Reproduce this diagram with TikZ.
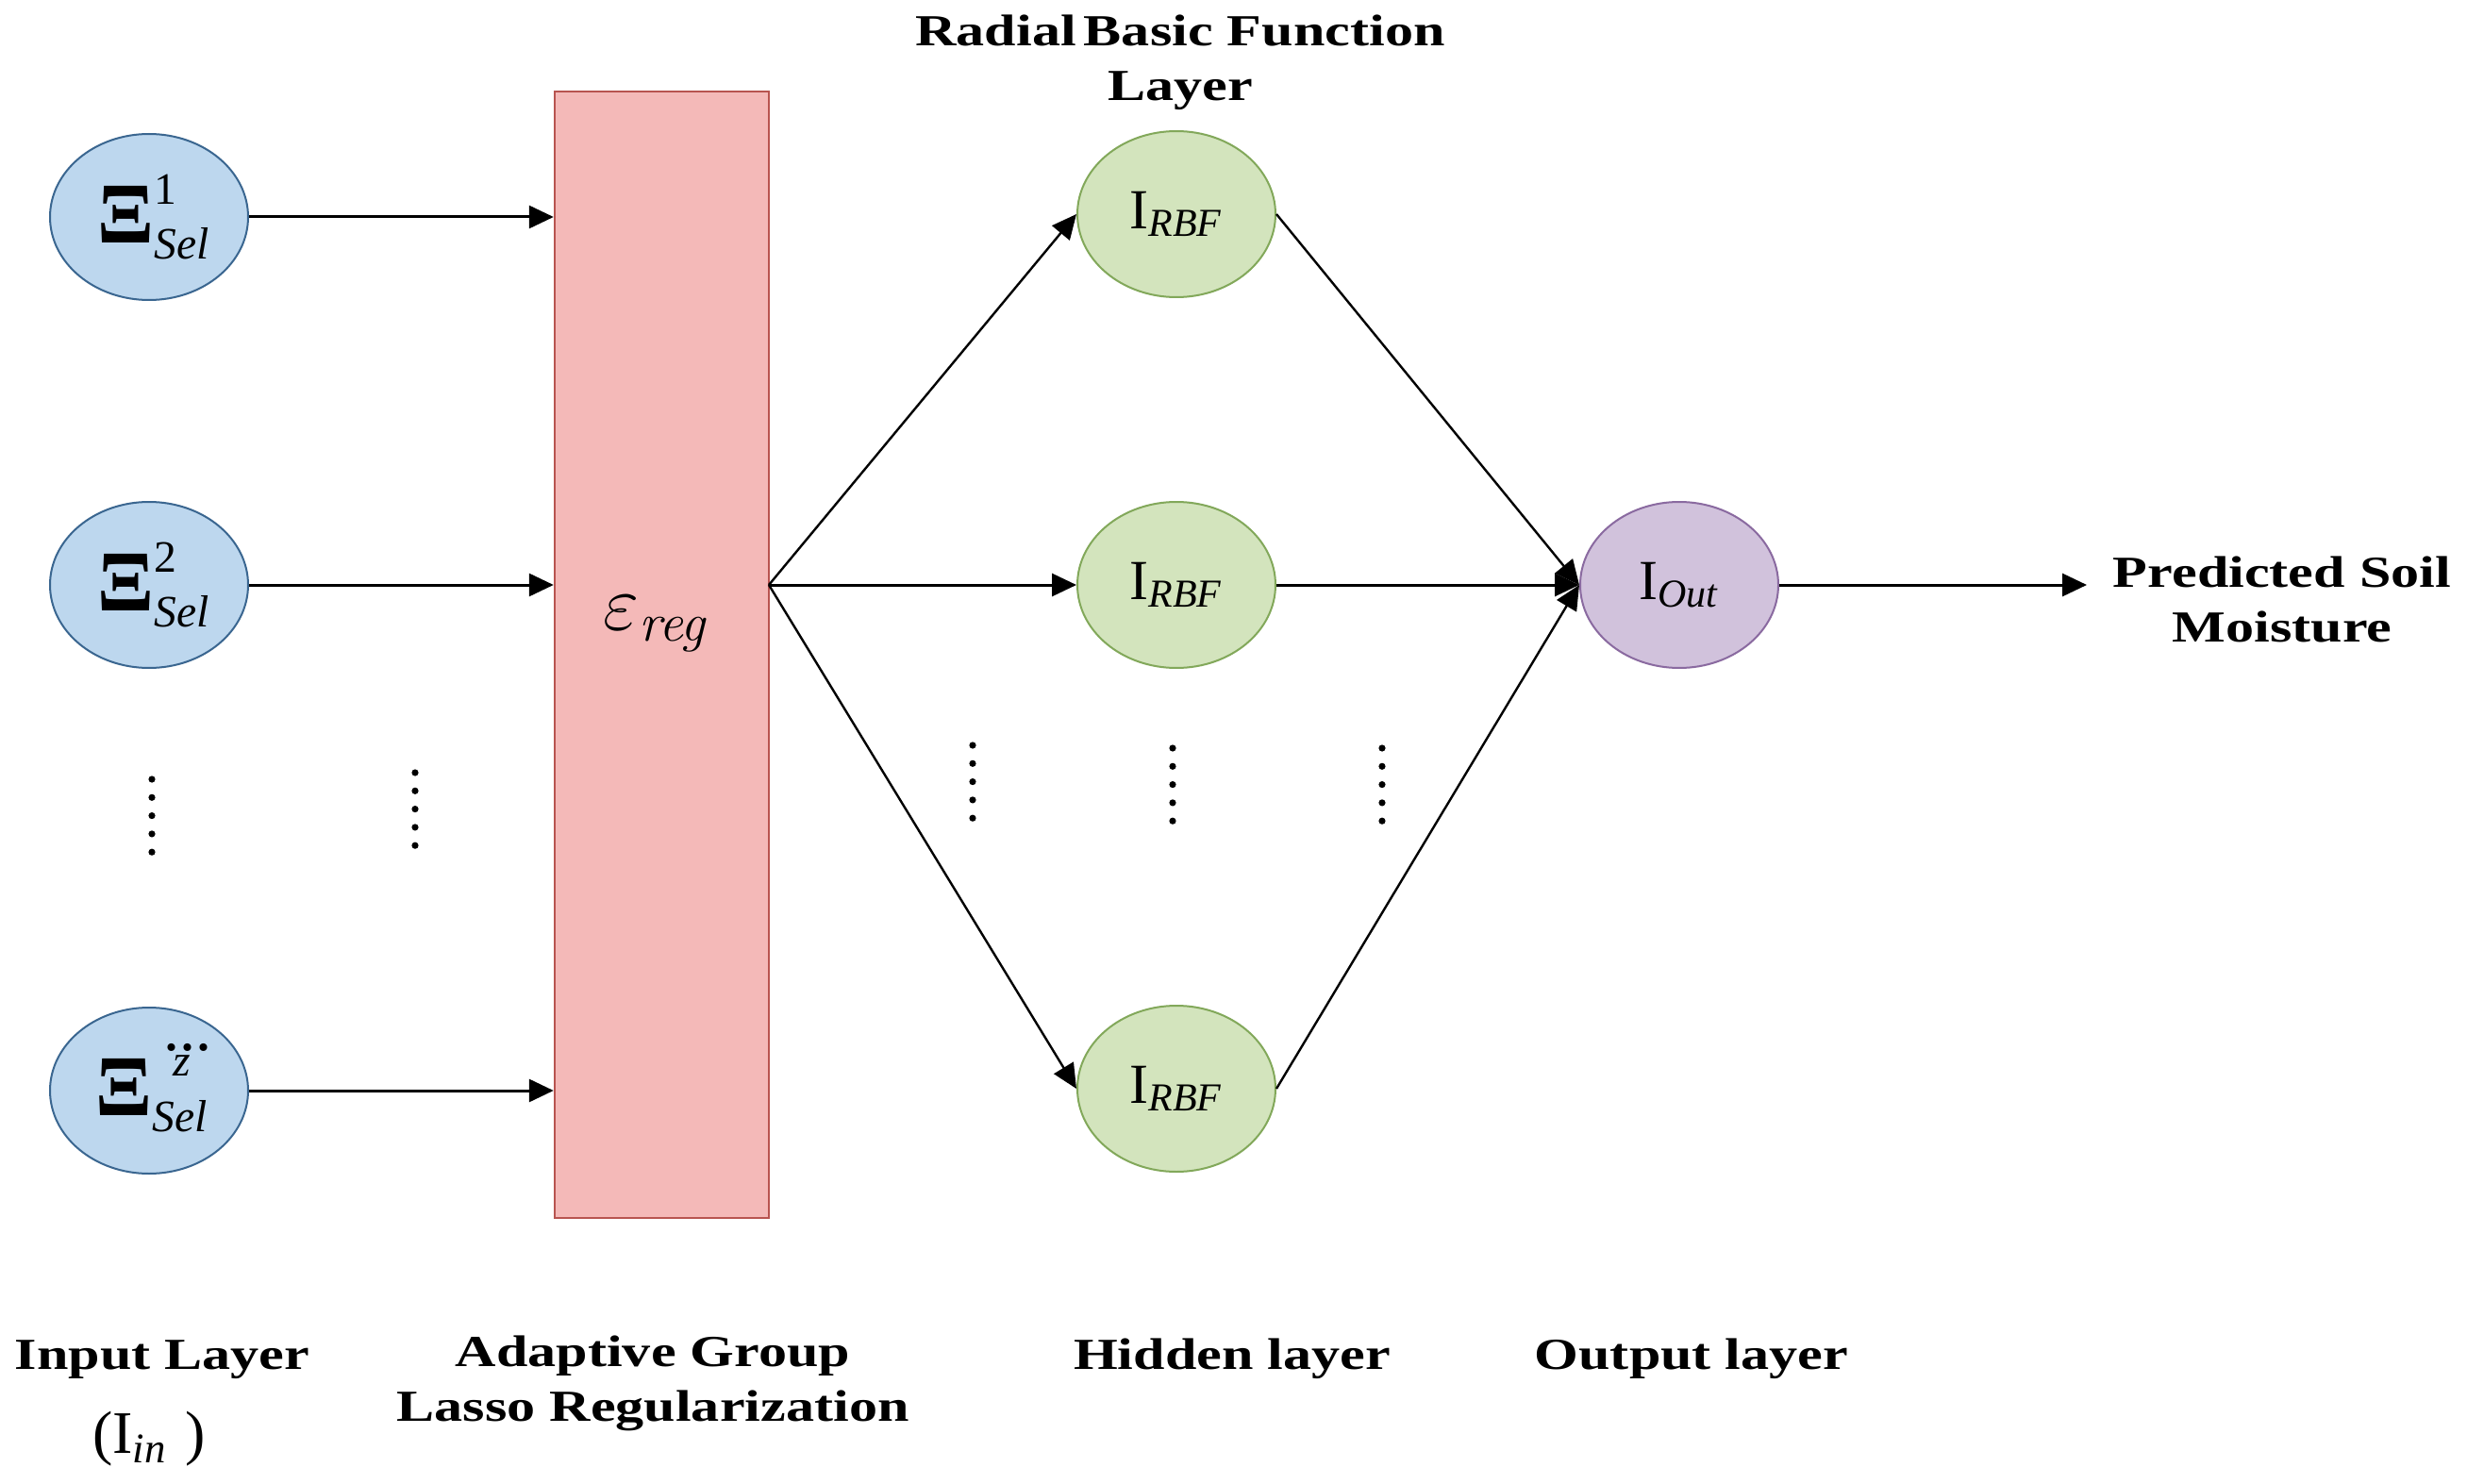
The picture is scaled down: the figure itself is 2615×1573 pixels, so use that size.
\documentclass[tikz,border=0pt]{standalone}
\usepackage{amsmath}
\usepackage{graphicx}
\usepackage[no-math]{fontspec}
\setmainfont{Liberation Serif}
\newfontfamily\lblfont{Liberation Serif}[FakeStretch=1.28]
\usetikzlibrary{arrows.meta,shapes.geometric}
\definecolor{inFill}{HTML}{BDD7EE}
\definecolor{inDraw}{HTML}{3A6690}
\definecolor{regFill}{HTML}{F4B9B8}
\definecolor{regDraw}{HTML}{B85450}
\definecolor{rbfFill}{HTML}{D3E4BD}
\definecolor{rbfDraw}{HTML}{82A85A}
\definecolor{outFill}{HTML}{D1C2DC}
\definecolor{outDraw}{HTML}{8A6AA0}
\newcommand{\BigXi}{\text{\scalebox{1.3}[1.35]{\bfseries Ξ}}}
\begin{document}
\begin{tikzpicture}[x=0.25pt,y=-0.25pt,
  neuron/.style={ellipse, minimum width=52.5pt, minimum height=44pt, inner sep=0pt, line width=0.5pt},
  inputn/.style={neuron, fill=inFill, draw=inDraw, font=\fontsize{17}{20}\selectfont},
  rbfn/.style={neuron, fill=rbfFill, draw=rbfDraw, font=\fontsize{15}{18}\selectfont},
  outn/.style={neuron, fill=outFill, draw=outDraw, font=\fontsize{15}{18}\selectfont},
  regbox/.style={rectangle, fill=regFill, draw=regDraw, line width=0.6pt, minimum width=56.75pt, minimum height=298.5pt, inner sep=0pt},
  conn/.style={-{Triangle[length=6.5pt,width=6pt]}, line width=0.75pt},
  thinconn/.style={-{Triangle[length=6.5pt,width=6pt]}, line width=0.6pt},
  lbl/.style={font=\lblfont\bfseries\fontsize{11.75}{14.5}\selectfont, align=center, inner sep=0pt, anchor=base},
  dotmark/.style={fill=black}
]
\useasboundingbox (0,0) rectangle (2615,1573);

% input layer
\node[inputn] (x1) at (158,230) {\hspace*{3pt}$\BigXi^{\text{1}}_{\textit{Sel}}$};
\node[inputn] (x2) at (158,620) {\hspace*{3pt}$\BigXi^{\text{2}}_{\textit{Sel}}$};
\node[inputn] (x3) at (158,1156) {\hspace*{3pt}$\BigXi^{\dddot{\textit{z}}}_{\textit{Sel}}$};

% regularization box
\node[regbox] (reg) at (701.5,694) {};
\node[font=\fontsize{21}{24}\selectfont, inner sep=0pt] (eps) at (697,661) {$\varepsilon_{\mathit{reg}}$};
\coordinate (split) at (815,620);

% hidden RBF layer
\node[rbfn] (r1) at (1247,227) {$\text{I}_{\textit{RBF}}$};
\node[rbfn] (r2) at (1247,620) {$\text{I}_{\textit{RBF}}$};
\node[rbfn] (r3) at (1247,1154) {$\text{I}_{\textit{RBF}}$};

% output
\node[outn] (out) at (1780,620) {$\text{I}_{\textit{Out}}$};
\coordinate (outend) at (2212,620);

% connectors
\draw[conn] (x1.east) -- (x1.east -| reg.west);
\draw[conn] (x2.east) -- (x2.east -| reg.west);
\draw[conn] (x3.east) -- (x3.east -| reg.west);
\draw[thinconn] (split) -- (r1.west);
\draw[conn] (split) -- (r2.west);
\draw[thinconn] (split) -- (r3.west);
\draw[thinconn] (r1.east) -- (out.west);
\draw[conn] (r2.east) -- (out.west);
\draw[thinconn] (r3.east) -- (out.west);
\draw[conn] (out.east) -- (outend);

% vertical dots
\foreach \x/\y in {161/826, 440/819, 1031/790, 1243/793, 1465/793}
  \foreach \k in {0,...,4}
    \fill[dotmark] (\x,{\y+\k*19.3}) circle (0.9pt);

% labels
\node[lbl] (ttl) at (1251,107) {Radial\,Basic Function\\Layer};
\node[lbl] (inl) at (172,1451) {Input Layer};
\node[font=\fontsize{16}{19}\selectfont, inner sep=0pt, anchor=base] (inm) at (158,1540) {$\text{(}\text{I}_{\textit{in}}\;\text{)}$};
\node[lbl] (agl) at (692,1506) {Adaptive Group\\Lasso Regularization};
\node[lbl] (hid) at (1306,1451) {Hidden layer};
\node[lbl] (outl) at (1793,1451) {Output layer};
\node[lbl] (pred) at (2419,680) {Predicted Soil\\Moisture};
\end{tikzpicture}
\end{document}
